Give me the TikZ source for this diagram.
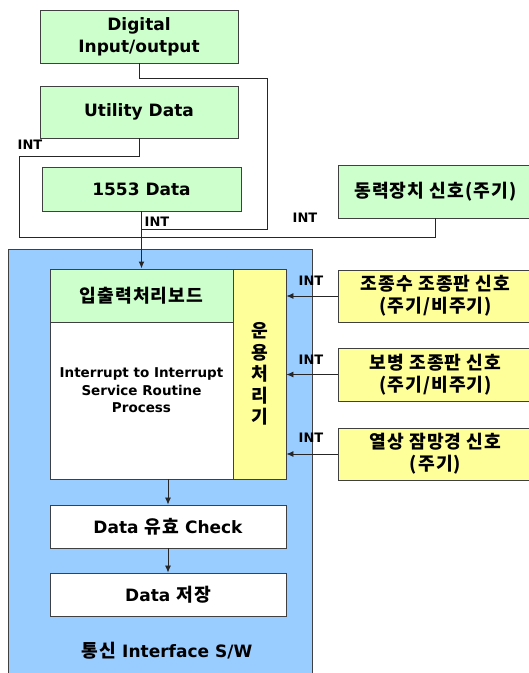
\documentclass[tikz,border=0pt]{standalone}
\usepackage{fontspec}
\setmainfont{DejaVu Sans}
\newfontfamily\krfont{Noto Sans CJK KR}[Scale=1.07, LetterSpace=6]
\newcommand{\kr}[1]{{\krfont #1}}
\usetikzlibrary{arrows.meta, positioning}

\definecolor{boxgreen}{HTML}{CCFFCC}
\definecolor{boxyellow}{HTML}{FFFF99}
\definecolor{boxblue}{HTML}{99CCFF}

\begin{document}
\begin{tikzpicture}[x=1pt, y=-1pt,
        box/.style={draw=black!75, line width=0.9pt, inner sep=0pt, align=center, font=\fontsize{17}{22}\selectfont\bfseries},
        krbox/.style={box, font=\krfont\fontsize{17}{22}\selectfont\bfseries},
        intlabel/.style={inner sep=0pt, font=\fontsize{13}{13}\selectfont\bfseries},
        wire/.style={line width=0.8pt, black!85},
        arrow/.style={-{Latex[length=7pt, width=6pt]}, line width=0.8pt, black!85}
    ]
        \useasboundingbox (0,0) rectangle (529,673);
        \clip (0,0) rectangle (529,673);

        % sources on top
        \node[box, fill=boxgreen, minimum width=198pt, minimum height=53pt] (dio) at (139,36.5) {Digital\\Input/output};
        \node[box, fill=boxgreen, minimum width=198pt, minimum height=52pt] (util) at (139,112) {Utility Data};
        \node[box, fill=boxgreen, minimum width=199pt, minimum height=44pt] (d1553) at (141.5,189) {1553 Data};
        \node[krbox, fill=boxgreen, minimum width=195pt, minimum height=53pt] (pwr) at (435.5,191.5) {동력장치 신호(주기)};

        % S/W block
        \node[draw=black!75, line width=0.9pt, fill=boxblue, minimum width=304pt, minimum height=440pt] (sw) at (160,469) {};
        \node[box, fill=boxgreen, minimum width=183pt, minimum height=53pt] (ioboard) at (141.5,295.5) {\kr{입출력처리보드}};
        \node[box, fill=white, minimum width=183pt, minimum height=157pt,
              font=\fontsize{13.5}{17.5}\selectfont\bfseries] (isr) at (141.5,400.5)
              {Interrupt to Interrupt\\Service Routine\\Process\\[3pt]};
        \node[krbox, fill=boxyellow, minimum width=53pt, minimum height=210pt,
              font=\krfont\fontsize{17}{21.5}\selectfont\bfseries] (opproc) at (259.5,374) {운\\용\\처\\리\\기};
        \node[box, fill=white, minimum width=236pt, minimum height=43pt] (chk) at (168,526.5) {Data \kr{유효} Check};
        \node[box, fill=white, minimum width=236pt, minimum height=43pt] (store) at (168,594.5) {Data \kr{저장}};
        \node[font=\fontsize{17}{22}\selectfont\bfseries] (swlabel) at (167,651) {\kr{통신} Interface S/W};

        % signals on the right
        \node[krbox, fill=boxyellow, minimum width=195pt, minimum height=52pt] (sig1) at (435.5,296) {조종수 조종판 신호\\(주기/비주기)};
        \node[krbox, fill=boxyellow, minimum width=195pt, minimum height=53pt] (sig2) at (435.5,374.5) {보병 조종판 신호\\(주기/비주기)};
        \node[krbox, fill=boxyellow, minimum width=195pt, minimum height=52pt] (sig3) at (435.5,454) {열상 잠망경 신호\\(주기)};

        % wires
        \coordinate (jdio) at (d1553.south |- 0,229);
        \draw[wire] (dio.south) -- ++(0,15) -| (267,229) -- (jdio);
        \draw[wire] (util.south) -- ++(0,18) -| (19,237) -| (pwr.south);
        \draw[arrow, line width=1.6pt] (d1553.south) -- (ioboard.north);
        \draw[arrow] (chk.north |- isr.south) -- (chk.north);
        \draw[arrow] (chk.south) -- (store.north);
        \foreach \s in {sig1, sig2, sig3}
            \draw[arrow] (\s.west) -- (\s.west -| opproc.east);

        % INT labels
        \node[intlabel] (int1) at (30,145) {INT};
        \node[intlabel] (int2) at (157,222) {INT};
        \node[intlabel] (int3) at (305,218) {INT};
        \node[intlabel] (int4) at (311,281) {INT};
        \node[intlabel] (int5) at (311,360) {INT};
        \node[intlabel] (int6) at (311,438) {INT};

    \end{tikzpicture}
\end{document}
